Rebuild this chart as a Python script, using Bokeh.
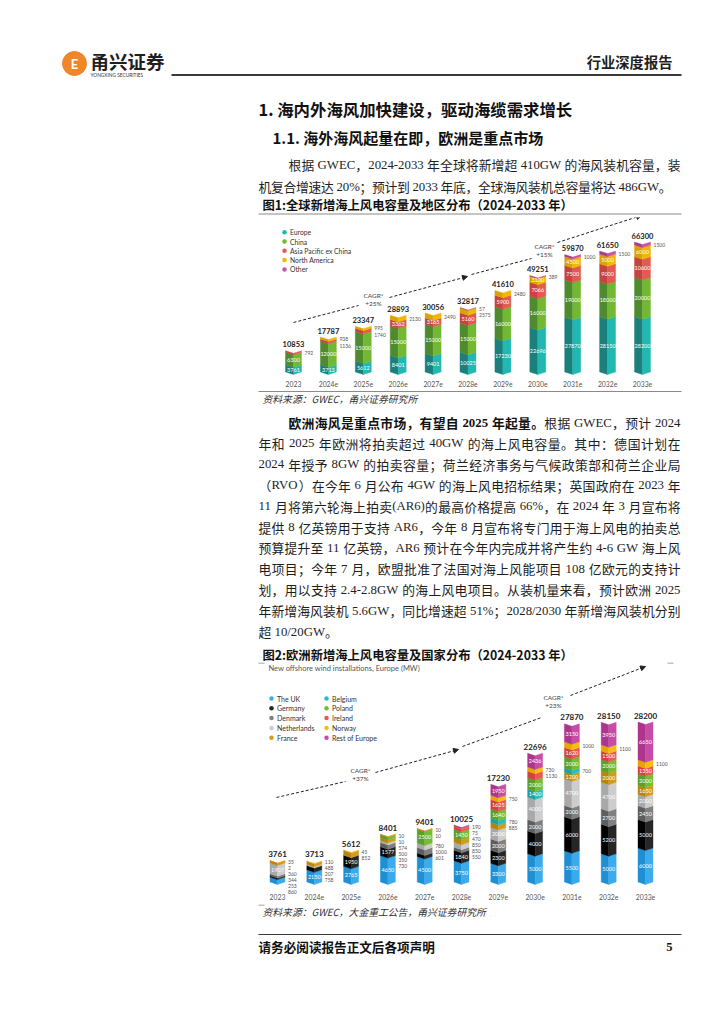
from bokeh.plotting import figure
from bokeh.layouts import column
from bokeh.models import Range1d, Arrow, NormalHead
from bokeh.embed import file_html
from bokeh.resources import INLINE
from bokeh.core.properties import value

# ---------------- data ----------------
years = ["2023", "2024e", "2025e", "2026e", "2027e", "2028e",
         "2029e", "2030e", "2031e", "2032e", "2033e"]

g_names = ["Europe", "China", "Asia Pacific ex China", "North America", "Other"]
g_europe = [3761, 3713, 5612, 8401, 9401, 10025, 17230, 22696, 27870, 28150, 28200]
g_china = [6300, 12000, 15000, 15000, 15000, 15000, 16000, 16000, 19000, 18000, 20000]
g_apac = [792, 1136, 1740, 3362, 3165, 5160, 5900, 7066, 7500, 9000, 10600]
g_na = [0, 938, 995, 2130, 2490, 2575, 2480, 3100, 4500, 5000, 6000]
g_other = [0, 0, 0, 0, 0, 57, 0, 389, 1000, 1500, 1500]
g_total = [10853, 17787, 23347, 28893, 30056, 32817, 41610, 49251, 59870, 61650, 66300]
g_cagr = ["+25%", "+15%"]

e_names = ["The UK", "Germany", "Denmark", "Netherlands", "France",
           "Belgium", "Poland", "Ireland", "Norway", "Rest of Europe"]
e_uk = [860, 2150, 2765, 4650, 4500, 3750, 3300, 5000, 5500, 5000, 6000]
e_germany = [253, 758, 1950, 1577, 601, 1840, 2300, 4000, 6000, 5200, 5000]
e_denmark = [344, 0, 0, 730, 1000, 550, 2000, 2000, 2000, 2700, 2450]
e_netherlands = [1907, 207, 0, 350, 780, 850, 2000, 4000, 4700, 4700, 2000]
e_france = [360, 488, 852, 500, 0, 850, 885, 0, 1200, 2000, 1650]
e_belgium = [0, 0, 0, 0, 0, 0, 780, 1400, 700, 0, 0]
e_poland = [0, 0, 0, 574, 2500, 1450, 1640, 2000, 2000, 2000, 2000]
e_ireland = [2, 0, 0, 10, 10, 470, 1625, 1130, 1620, 1500, 1350]
e_norway = [35, 110, 45, 10, 10, 75, 750, 730, 1000, 1100, 1100]
e_rest = [0, 0, 0, 0, 0, 190, 1950, 2436, 3150, 3950, 6650]
e_total = [3761, 3713, 5612, 8401, 9401, 10025, 17230, 22696, 27870, 28150, 28200]
e_cagr = ["+37%", "+23%"]

para1 = [
    [("根据 GWEC，2024-2033 年全球将新增超 410GW 的海风装机容量，装", "normal")],
    [("机复合增速达 20%；预计到 2033 年底，全球海风装机总容量将达 486GW。", "normal")],
]
para2 = [
    [("欧洲海风是重点市场，有望自 2025 年起量。", "bold"), ("根据 GWEC，预计 2024", "normal")],
    [("年和 2025 年欧洲将拍卖超过 40GW 的海上风电容量。其中：德国计划在", "normal")],
    [("2024 年授予 8GW 的拍卖容量；荷兰经济事务与气候政策部和荷兰企业局", "normal")],
    [("（RVO）在今年 6 月公布 4GW 的海上风电招标结果；英国政府在 2023 年", "normal")],
    [("11 月将第六轮海上拍卖(AR6)的最高价格提高 66%，在 2024 年 3 月宣布将", "normal")],
    [("提供 8 亿英镑用于支持 AR6，今年 8 月宣布将专门用于海上风电的拍卖总", "normal")],
    [("预算提升至 11 亿英镑，AR6 预计在今年内完成并将产生约 4-6 GW 海上风", "normal")],
    [("电项目；今年 7 月，欧盟批准了法国对海上风能项目 108 亿欧元的支持计", "normal")],
    [("划，用以支持 2.4-2.8GW 的海上风电项目。从装机量来看，预计欧洲 2025", "normal")],
    [("年新增海风装机 5.6GW，同比增速超 51%；2028/2030 年新增海风装机分别", "normal")],
    [("超 10/20GW。", "normal")],
]

# ---------------- styles ----------------
CJK = "Noto Sans CJK SC"
LAT = "Lato"
SER = "Liberation Serif"
W = 708
X0 = 0
TOP = 1
BODY = 12.8

g_dark = ["#1b7f7b", "#4f8a2f", "#c4443f", "#d9a300", "#a83c8e"]
g_light = ["#22b8b2", "#72b833", "#e25a54", "#f2b700", "#c954aa"]
e_dark = ["#1f8fd4", "#000000", "#5e5e5e", "#a9a9a9", "#b5850f",
          "#18a3a3", "#5a9f2a", "#d63f3f", "#e6a600", "#ad358d"]
e_light = ["#3cabeb", "#262626", "#808080", "#cdcdcd", "#d39b1d",
           "#25c0bf", "#74bd35", "#ec5757", "#f6bd12", "#c74ca6"]


def base_fig(h, xr, yr):
    p = figure(width=W, height=h, x_range=xr, y_range=yr, output_backend="svg",
               toolbar_location=None, x_axis_location=None, y_axis_location=None,
               min_border=0)
    p.grid.visible = False
    p.outline_line_color = None
    p.background_fill_color = "white"
    p.border_fill_color = "white"
    return p


def page_fig(top, bottom):
    return base_fig(bottom - top, Range1d(X0, X0 + W), Range1d(bottom, top))


def put(p, x, y, s, size, color="#1a1a1a", style="normal", align="left", font=CJK):
    p.text(x=[x], y=[y], text=[s], text_font=value(font),
           text_font_size=value(f"{size}px"), text_font_style=style,
           text_color=color, text_align=align, text_baseline="middle")


def hline(p, x0, x1, y, color="#333333", width=1.0):
    p.segment(x0=[x0], y0=[y], x1=[x1], y1=[y], line_color=color, line_width=width)


# Times-compatible (Liberation Serif) advance widths, in em
TW = {' ': 0.25, '.': 0.25, ',': 0.25, '-': 0.333, '/': 0.278, '%': 0.833,
      '(': 0.333, ')': 0.333, ':': 0.278, 'G': 0.722, 'W': 0.944, 'E': 0.611,
      'C': 0.667, 'R': 0.667, 'V': 0.722, 'O': 0.722, 'A': 0.722, 'M': 0.889}
TWB = {'G': 0.778, 'W': 1.0, 'E': 0.667, 'C': 0.722, '%': 1.0, ':': 0.333}


def cw(ch, bold):
    if ord(ch) > 0x2E80:
        return 1.0
    if ch.isdigit():
        return 0.5
    if bold and ch in TWB:
        return TWB[ch]
    return TW.get(ch, 0.5)


def para_line(p, x0, x1, y, segs, size, justify=True, color="#1e1e1e"):
    toks = []  # (text, width_px, style, is_cjk, draw)
    for s, style in segs:
        bold = style == "bold"
        run = ""
        for ch in s:
            if ord(ch) > 0x2E80 or ch == " ":
                if run:
                    toks.append((run, sum(cw(c, bold) for c in run) * size, style, False, True))
                    run = ""
                toks.append((ch, cw(ch, bold) * size, style, True, ch != " "))
            else:
                run += ch
        if run:
            toks.append((run, sum(cw(c, bold) for c in run) * size, style, False, True))
    natural = sum(t[1] for t in toks)
    extra = (x1 - x0 - natural) / (len(toks) - 1) if (justify and len(toks) > 1) else 0.0
    x = x0
    groups = {}
    for t, w, style, is_cjk, draw in toks:
        if draw:
            key = (style, is_cjk)
            groups.setdefault(key, ([], []))
            groups[key][0].append(x)
            groups[key][1].append(t)
        x += w + extra
    for (style, is_cjk), (xs, ts) in groups.items():
        p.text(x=xs, y=[y] * len(xs), text=ts, text_font=value(CJK if is_cjk else SER),
               text_font_size=value(f"{size}px"), text_font_style=style,
               text_color="#111111" if style == "bold" else color,
               text_align="left", text_baseline="middle")


class Chart:
    def __init__(self, top, bottom, cx0, dx, base, ppu):
        self.cx0, self.dx, self.base, self.ppu = cx0, dx, base, ppu
        xr = Range1d((X0 - cx0) / dx, (X0 + W - cx0) / dx)
        yr = Range1d(-(bottom - base) / ppu, (base - top) / ppu)
        self.p = base_fig(bottom - top, xr, yr)

    def X(self, px):
        return (px - self.cx0) / self.dx

    def Y(self, py):
        return (self.base - py) / self.ppu


def draw_stack(ch, series, dark, light, totals, bw_px, notch_px, inner_min,
               gap_px, fs_in, fs_side, fs_tot, xlab_py):
    p = ch.p
    half = bw_px / 2 / ch.dx
    d = notch_px / ch.ppu
    xs, ys, cs = [], [], []
    ix, iy, it = [], [], []
    sx, sy, st = [], [], []
    for i in range(len(totals)):
        cum = 0.0
        side = []
        for s, vals in enumerate(series):
            v = vals[i]
            if v <= 0:
                continue
            b, t = cum, cum + v
            xs += [[i - half, i, i, i - half], [i, i + half, i + half, i]]
            ys += [[b + d, b, t, t + d], [b, b + d, t + d, t]]
            cs += [dark[s], light[s]]
            mid = (b + t) / 2 + d * 0.5
            if v >= inner_min:
                ix.append(i); iy.append(mid); it.append(str(v))
            else:
                side.append((mid, v))
            cum = t
        side.sort(key=lambda z: -z[0])
        gap = gap_px / ch.ppu
        prev = None
        for mid, v in side:
            y = mid if prev is None else min(mid, prev - gap)
            sx.append(i + half + 3 / ch.dx); sy.append(y); st.append(str(v))
            prev = y
    p.patches(xs, ys, fill_color=cs, line_color=cs, line_width=0.4)
    p.text(x=ix, y=iy, text=it, text_font=value(LAT), text_font_size=value(f"{fs_in}px"),
           text_color="white", text_align="center", text_baseline="middle")
    p.text(x=sx, y=sy, text=st, text_font=value(LAT), text_font_size=value(f"{fs_side}px"),
           text_color="#555555", text_align="left", text_baseline="middle")
    n = len(totals)
    p.text(x=list(range(n)), y=[t + d + 6.5 / ch.ppu for t in totals],
           text=[str(t) for t in totals], text_font=value(LAT),
           text_font_size=value(f"{fs_tot}px"), text_font_style="bold",
           text_color="#222222", text_align="center", text_baseline="middle")
    p.text(x=list(range(n)), y=[ch.Y(xlab_py)] * n, text=years, text_font=value(LAT),
           text_font_size=value("6.8px"), text_color="#555555", text_align="center",
           text_baseline="middle")


def cagr(ch, pts, label):
    p = ch.p
    (a, b), (c, d_), (tx, ty), (e, f), (g, h) = pts
    p.segment(x0=[ch.X(a)], y0=[ch.Y(b)], x1=[ch.X(c)], y1=[ch.Y(d_)],
              line_color="#222222", line_width=1, line_dash="3 2")
    p.add_layout(Arrow(x_start=ch.X(e), y_start=ch.Y(f), x_end=ch.X(g), y_end=ch.Y(h),
                       line_color="#222222", line_width=1, line_dash="3 2",
                       end=NormalHead(size=5, fill_color="#222222", line_color="#222222")))
    put(p, ch.X(tx), ch.Y(ty - 4), "CAGR*", 6.5, "#444444", align="center", font=LAT)
    put(p, ch.X(tx), ch.Y(ty + 4), label, 6.5, "#444444", align="center", font=LAT)


# ---------------- figure A: header + intro ----------------
A_top, A_bot = TOP, 218
pa = page_fig(A_top, A_bot)
pa.scatter(x=[74], y=[64], size=24, marker="circle", fill_color="#f0862a", line_color="#f0862a")
put(pa, 74, 64, "E", 13, "white", "bold", "center", LAT)
put(pa, 90, 61, "甬兴证券", 18.5, "#1f1f1f", "bold")
put(pa, 90, 75, "YONGXING SECURITIES", 4.8, "#333333", font=LAT)
hline(pa, 171, 681, 75.5, "#3a3a3a", 2)
put(pa, 672, 62, "行业深度报告", 14.3, "#1f1f1f", "bold", "right")
put(pa, 258, 109, "1. 海内外海风加快建设，驱动海缆需求增长", 16.4, "#111111", "bold")
put(pa, 272, 138, "1.1. 海外海风起量在即，欧洲是重点市场", 15, "#111111", "bold")
para_line(pa, 288, 680, 165, para1[0], BODY, True)
para_line(pa, 258, 671, 187, para1[1], BODY, True)
put(pa, 262, 205, "图1:全球新增海上风电容量及地区分布（2024-2033 年）", 12.3, "#111111", "bold")
hline(pa, 258, 681, 214.5, "#8a8a8a", 1)

# ---------------- figure B: global chart ----------------
B_top, B_bot = 218, 391
c1 = Chart(B_top, B_bot, 293, 34.9, 375, 130 / 66300)
draw_stack(c1, [g_europe, g_china, g_apac, g_na, g_other], g_dark, g_light, g_total,
           16, 2.5, 2900, 6.5, 5.5, 5, 7.5, 384)
for k, nm in enumerate(g_names):
    yy = 232.7 + 9.3 * k
    c1.p.scatter(x=[c1.X(284)], y=[c1.Y(yy)], size=4.5, fill_color=g_light[k], line_color=None)
    put(c1.p, c1.X(289.5), c1.Y(yy), nm, 6.8, "#333333", font=LAT)
cagr(c1, [(293, 323), (358, 306), (373, 300), (389, 298), (467, 277)], g_cagr[0])
cagr(c1, [(471, 275), (531, 259), (544, 251), (557, 243), (641, 216)], g_cagr[1])

# ---------------- figure C: source + paragraph ----------------
C_top, C_bot = 391, 663
pc = page_fig(C_top, C_bot)
hline(pc, 258, 681, 392, "#8a8a8a", 1)
put(pc, 262, 399, "资料来源：GWEC，甬兴证券研究所", 9.8, "#333333", "italic")
for k, segs in enumerate(para2):
    x_start = 288 if k == 0 else 258
    para_line(pc, x_start, 680, 423 + 20.9 * k, segs, BODY, k < len(para2) - 1)
put(pc, 262, 655, "图2:欧洲新增海上风电容量及国家分布（2024-2033 年）", 12.3, "#111111", "bold")

# ---------------- figure D: Europe chart ----------------
D_top, D_bot = 663, 905
c2 = Chart(D_top, D_bot, 277, 36.8, 885, 160 / 28200)
hline(c2.p, c2.X(258), c2.X(264), c2.Y(663.5), "#8a8a8a", 1)
hline(c2.p, c2.X(667), c2.X(673), c2.Y(663.5), "#8a8a8a", 1)
put(c2.p, c2.X(268), c2.Y(669), "New offshore wind installations, Europe (MW)", 7.5, "#555555", font=LAT)
draw_stack(c2, [e_uk, e_germany, e_denmark, e_netherlands, e_france, e_belgium,
                e_poland, e_ireland, e_norway, e_rest], e_dark, e_light, e_total,
           15, 2.5, 1150, 6.0, 5.5, 5, 8, 897)
for k, nm in enumerate(e_names):
    col, row = divmod(k, 5)
    yy = 699 + 9.8 * row
    dxp = 271 if col == 0 else 326
    c2.p.scatter(x=[c2.X(dxp)], y=[c2.Y(yy)], size=4.5, fill_color=e_light[k], line_color=None)
    put(c2.p, c2.X(dxp + 5.5), c2.Y(yy), nm, 7, "#333333", font=LAT)
cagr(c2, [(276, 798), (345, 782), (360, 775), (375, 773), (458, 750)], e_cagr[0])
cagr(c2, [(462, 747), (541, 718), (553, 702), (570, 696), (645, 667)], e_cagr[1])

# ---------------- figure E: source + footer ----------------
E_top, E_bot = 905, 1012
pe = page_fig(E_top, E_bot)
hline(pe, 258, 264, 905.5, "#8a8a8a", 1)
put(pe, 262, 912, "资料来源：GWEC，大金重工公告，甬兴证券研究所", 9.8, "#333333", "italic")
hline(pe, 258, 681, 935, "#3a3a3a", 1)
put(pe, 258, 947, "请务必阅读报告正文后各项声明", 12.6, "#111111", "bold")
put(pe, 672, 947, "5", 12.6, "#111111", "bold", "right", SER)

layout = column(pa, c1.p, pc, c2.p, pe, spacing=0)
open("out.html", "w").write(file_html(layout, INLINE))
